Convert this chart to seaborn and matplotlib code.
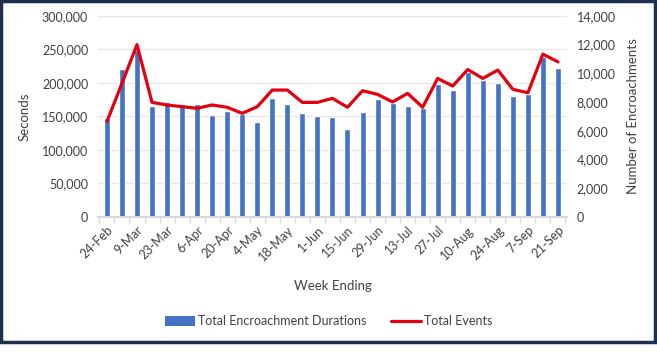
import matplotlib
matplotlib.use("Agg")
import matplotlib.pyplot as plt
import seaborn as sns
import pandas as pd
import numpy as np
from matplotlib.patches import Rectangle, Patch
from matplotlib.lines import Line2D

weeks = ["24-Feb", "2-Mar", "9-Mar", "16-Mar", "23-Mar", "30-Mar", "6-Apr", "13-Apr",
         "20-Apr", "27-Apr", "4-May", "11-May", "18-May", "25-May", "1-Jun", "8-Jun",
         "15-Jun", "22-Jun", "29-Jun", "6-Jul", "13-Jul", "20-Jul", "27-Jul", "3-Aug",
         "10-Aug", "17-Aug", "24-Aug", "31-Aug", "7-Sep", "14-Sep", "21-Sep"]
durations = [148000, 221000, 249000, 165000, 171000, 169000, 169000, 152000,
             158000, 154000, 141000, 177000, 169000, 155000, 151000, 149000,
             132000, 156000, 176000, 170000, 165000, 162000, 198000, 190000,
             217000, 205000, 200000, 181000, 184000, 239000, 223000]
events = [6650, 9300, 12000, 7980, 7800, 7680, 7570, 7800,
          7640, 7220, 7680, 8840, 8840, 7980, 7980, 8260,
          7640, 8790, 8540, 8010, 8610, 7640, 9650, 9120,
          10270, 9650, 10230, 8890, 8650, 11340, 10800]

df = pd.DataFrame({"week": weeks, "durations": durations, "events": events,
                   "pos": range(len(weeks))})

sns.set_theme(style="white")
plt.rcParams['font.family'] = ['Lato', 'DejaVu Sans']

fig = plt.figure(figsize=(6.57, 3.54), dpi=100)
ax = fig.add_axes([0.149, 0.387, 0.714, 0.568])

bar_color = "#4472C4"
line_color = "#E3000F"
text_color = "#404040"
fs = 9

sns.barplot(data=df, x="week", y="durations", color=bar_color, width=0.4,
            saturation=1, ax=ax, zorder=2)
ax.set_ylim(0, 300000)
ax.set_yticks(np.arange(0, 300001, 50000))
ax.set_yticklabels([f"{v:,}" for v in range(0, 300001, 50000)], fontsize=fs, color=text_color)
ax.grid(axis="y", color="#E6E6E6", linewidth=1, zorder=0)
ax.set_axisbelow(True)
ax.set_xlim(-0.6, len(weeks) - 0.4)

ax2 = ax.twinx()
sns.lineplot(data=df, x="pos", y="events", color=line_color, linewidth=2.3, ax=ax2, zorder=3)
ax2.set_ylim(0, 14000)
ax2.set_yticks(np.arange(0, 14001, 2000))
ax2.set_yticklabels([f"{v:,}" for v in range(0, 14001, 2000)], fontsize=fs, color=text_color)
ax2.set_xlim(-0.6, len(weeks) - 0.4)

for a in (ax, ax2):
    for s in ("top", "left", "right"):
        a.spines[s].set_visible(False)
    a.spines["bottom"].set_color("#D9D9D9")
    a.tick_params(axis="y", length=0, pad=7)

ax.set_xticks(range(0, len(weeks), 2))
ax.set_xticklabels(weeks[::2], rotation=45, ha="right", rotation_mode="anchor",
                   fontsize=fs, color=text_color)
ax.set_xticks(np.arange(-0.5, len(weeks), 1), minor=True)
ax.tick_params(axis="x", which="major", length=0, pad=5)
ax.tick_params(axis="x", which="minor", length=4, color="#D9D9D9", bottom=True)

ax.set_xlabel("Week Ending", fontsize=9.5, color=text_color, labelpad=12)
ax.set_ylabel("Seconds", fontsize=9.5, color=text_color, labelpad=8)
ax2.set_ylabel("Number of Encroachments", fontsize=9.5, color=text_color, labelpad=8)

handles = [Patch(facecolor=bar_color, edgecolor="none"),
           Line2D([0], [0], color=line_color, linewidth=2.3)]
fig.legend(handles, ["Total Encroachment Durations", "Total Events"],
           loc="center", bbox_to_anchor=(0.5, 0.093), ncol=2, frameon=False,
           fontsize=fs, handlelength=2.4, handleheight=0.8, columnspacing=2.0,
           labelcolor=text_color, handletextpad=0.25)

fig.patches.append(Rectangle((0.001, 0.033), 0.996, 0.965, transform=fig.transFigure,
                             fill=False, edgecolor="#1F2D4E", linewidth=2.5))

fig.savefig("out.png", dpi=100)
